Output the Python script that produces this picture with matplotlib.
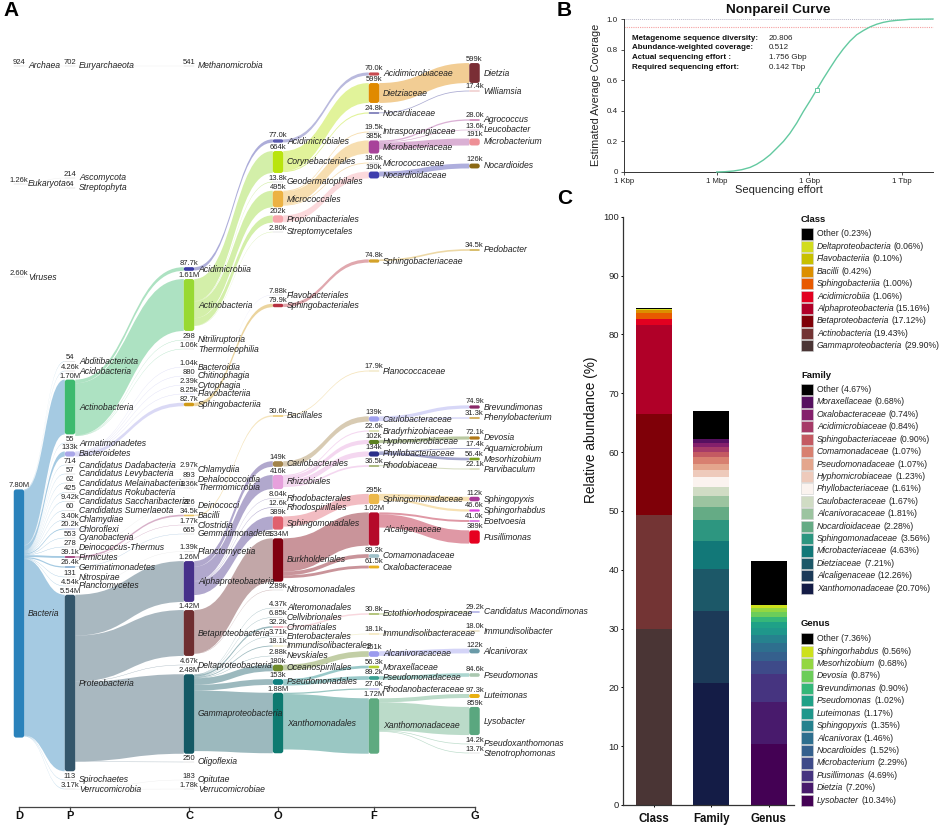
import matplotlib
matplotlib.use('Agg')
import matplotlib.pyplot as plt
from matplotlib.patches import FancyBboxPatch, PathPatch, Rectangle
from matplotlib.path import Path

plt.rcParams['font.family'] = ['Liberation Sans', 'DejaVu Sans']
W, H = 939, 825
TXT = '#222222'

# ---------- Panel A data: taxa, read counts, per rank ----------
RANKS = ['D', 'P', 'C', 'O', 'F', 'G']
TAXA_D = ['Archaea', 'Eukaryota', 'Viruses', 'Bacteria']
COUNT_D = ['924', '1.26k', '2.60k', '7.80M']
TAXA_P = ['Euryarchaeota', 'Ascomycota', 'Streptophyta', 'Abditibacteriota', 'Acidobacteria', 'Actinobacteria',
          'Armatimonadetes', 'Bacteroidetes', 'Candidatus Dadabacteria', 'Candidatus Levybacteria',
          'Candidatus Melainabacteria', 'Candidatus Rokubacteria', 'Candidatus Saccharibacteria',
          'Candidatus Sumerlaeota', 'Chlamydiae', 'Chloroflexi', 'Cyanobacteria', 'Deinococcus-Thermus',
          'Firmicutes', 'Gemmatimonadetes', 'Nitrospirae', 'Planctomycetes', 'Proteobacteria',
          'Spirochaetes', 'Verrucomicrobia']
COUNT_P = ['702', '214', '64', '54', '4.26k', '1.70M', '55', '133k', '714', '57', '62', '425', '9.42k', '60',
           '3.40k', '20.2k', '553', '278', '39.1k', '26.4k', '131', '4.54k', '5.54M', '113', '3.17k']
TAXA_C = ['Methanomicrobia', 'Acidimicrobiia', 'Actinobacteria', 'Nitriliruptoria', 'Thermoleophilia', 'Bacteroidia',
          'Chitinophagia', 'Cytophagia', 'Flavobacteriia', 'Sphingobacteriia', 'Chlamydiia', 'Dehalococcoidia',
          'Thermomicrobia', 'Deinococci', 'Bacilli', 'Clostridia', 'Gemmatimonadetes', 'Planctomycetia',
          'Alphaproteobacteria', 'Betaproteobacteria', 'Deltaproteobacteria', 'Gammaproteobacteria',
          'Oligoflexia', 'Opitutae', 'Verrucomicrobiae']
COUNT_C = ['541', '87.7k', '1.61M', '298', '1.06k', '1.04k', '880', '2.39k', '8.25k', '82.7k', '2.97k', '893',
           '1.36k', '226', '34.5k', '1.77k', '665', '1.39k', '1.26M', '1.42M', '4.67k', '2.48M', '250', '183', '1.78k']
TAXA_O = ['Acidimicrobiales', 'Corynebacteriales', 'Geodermatophilales', 'Micrococcales', 'Propionibacteriales',
          'Streptomycetales', 'Flavobacteriales', 'Sphingobacteriales', 'Bacillales', 'Caulobacterales', 'Rhizobiales',
          'Rhodobacterales', 'Rhodospirillales', 'Sphingomonadales', 'Burkholderiales', 'Nitrosomonadales',
          'Alteromonadales', 'Cellvibrionales', 'Chromatiales', 'Enterobacterales', 'Immundisolibacterales',
          'Nevskiales', 'Oceanospirillales', 'Pseudomonadales', 'Xanthomonadales']
COUNT_O = ['77.0k', '664k', '13.8k', '495k', '202k', '2.80k', '7.88k', '79.9k', '30.6k', '149k', '416k', '8.04k',
           '12.6k', '389k', '1.34M', '2.89k', '4.37k', '6.85k', '32.2k', '3.71k', '18.1k', '2.88k', '180k', '153k', '1.88M']
TAXA_F = ['Acidimicrobiaceae', 'Dietziaceae', 'Nocardiaceae', 'Intrasporangiaceae', 'Microbacteriaceae',
          'Micrococcaceae', 'Nocardioidaceae', 'Sphingobacteriaceae', 'Planococcaceae', 'Caulobacteraceae',
          'Bradyrhizobiaceae', 'Hyphomicrobiaceae', 'Phyllobacteriaceae', 'Rhodobiaceae', 'Sphingomonadaceae',
          'Alcaligenaceae', 'Comamonadaceae', 'Oxalobacteraceae', 'Ectothiorhodospiraceae', 'Immundisolibacteraceae',
          'Alcanivoracaceae', 'Moraxellaceae', 'Pseudomonadaceae', 'Rhodanobacteraceae', 'Xanthomonadaceae']
COUNT_F = ['70.0k', '599k', '24.8k', '19.5k', '385k', '18.6k', '190k', '74.8k', '17.9k', '139k', '22.6k', '102k',
           '134k', '36.5k', '295k', '1.02M', '89.2k', '61.5k', '30.8k', '18.1k', '151k', '56.3k', '89.2k', '27.0k', '1.72M']
TAXA_G = ['Dietzia', 'Williamsia', 'Agrococcus', 'Leucobacter', 'Microbacterium', 'Nocardioides', 'Pedobacter',
          'Brevundimonas', 'Phenylobacterium', 'Devosia', 'Aquamicrobium', 'Mesorhizobium', 'Parvibaculum',
          'Sphingopyxis', 'Sphingorhabdus', 'Eoetvoesia', 'Pusillimonas', 'Candidatus Macondimonas',
          'Immundisolibacter', 'Alcanivorax', 'Pseudomonas', 'Luteimonas', 'Lysobacter', 'Pseudoxanthomonas',
          'Stenotrophomonas']
COUNT_G = ['599k', '17.4k', '28.0k', '13.6k', '191k', '126k', '34.5k', '74.9k', '31.3k', '72.1k', '17.4k', '56.4k',
           '22.1k', '112k', '46.6k', '41.0k', '389k', '29.2k', '18.0k', '122k', '84.6k', '97.3k', '859k', '14.2k', '13.7k']

# parent -> children edges, one table per rank pair
EDGES_DP = {'Archaea': ['Euryarchaeota'], 'Eukaryota': ['Ascomycota', 'Streptophyta'],
            'Bacteria': TAXA_P[3:]}
EDGES_PC = {'Euryarchaeota': ['Methanomicrobia'],
            'Actinobacteria': ['Acidimicrobiia', 'Actinobacteria', 'Nitriliruptoria', 'Thermoleophilia'],
            'Bacteroidetes': ['Bacteroidia', 'Chitinophagia', 'Cytophagia', 'Flavobacteriia', 'Sphingobacteriia'],
            'Chlamydiae': ['Chlamydiia'], 'Chloroflexi': ['Dehalococcoidia', 'Thermomicrobia'],
            'Deinococcus-Thermus': ['Deinococci'], 'Firmicutes': ['Bacilli', 'Clostridia'],
            'Gemmatimonadetes': ['Gemmatimonadetes'], 'Planctomycetes': ['Planctomycetia'],
            'Proteobacteria': ['Alphaproteobacteria', 'Betaproteobacteria', 'Deltaproteobacteria',
                               'Gammaproteobacteria', 'Oligoflexia'],
            'Verrucomicrobia': ['Opitutae', 'Verrucomicrobiae']}
EDGES_CO = {'Acidimicrobiia': ['Acidimicrobiales'],
            'Actinobacteria': ['Corynebacteriales', 'Geodermatophilales', 'Micrococcales', 'Propionibacteriales',
                               'Streptomycetales'],
            'Flavobacteriia': ['Flavobacteriales'], 'Sphingobacteriia': ['Sphingobacteriales'],
            'Bacilli': ['Bacillales'],
            'Alphaproteobacteria': ['Caulobacterales', 'Rhizobiales', 'Rhodobacterales', 'Rhodospirillales',
                                    'Sphingomonadales'],
            'Betaproteobacteria': ['Burkholderiales', 'Nitrosomonadales'],
            'Gammaproteobacteria': ['Alteromonadales', 'Cellvibrionales', 'Chromatiales', 'Enterobacterales',
                                    'Immundisolibacterales', 'Nevskiales', 'Oceanospirillales', 'Pseudomonadales',
                                    'Xanthomonadales']}
EDGES_OF = {'Acidimicrobiales': ['Acidimicrobiaceae'], 'Corynebacteriales': ['Dietziaceae', 'Nocardiaceae'],
            'Micrococcales': ['Intrasporangiaceae', 'Microbacteriaceae', 'Micrococcaceae'],
            'Propionibacteriales': ['Nocardioidaceae'], 'Sphingobacteriales': ['Sphingobacteriaceae'],
            'Bacillales': ['Planococcaceae'], 'Caulobacterales': ['Caulobacteraceae'],
            'Rhizobiales': ['Bradyrhizobiaceae', 'Hyphomicrobiaceae', 'Phyllobacteriaceae', 'Rhodobiaceae'],
            'Sphingomonadales': ['Sphingomonadaceae'],
            'Burkholderiales': ['Alcaligenaceae', 'Comamonadaceae', 'Oxalobacteraceae'],
            'Chromatiales': ['Ectothiorhodospiraceae'], 'Immundisolibacterales': ['Immundisolibacteraceae'],
            'Oceanospirillales': ['Alcanivoracaceae'], 'Pseudomonadales': ['Moraxellaceae', 'Pseudomonadaceae'],
            'Xanthomonadales': ['Rhodanobacteraceae', 'Xanthomonadaceae']}
EDGES_FG = {'Dietziaceae': ['Dietzia'], 'Nocardiaceae': ['Williamsia'],
            'Microbacteriaceae': ['Agrococcus', 'Leucobacter', 'Microbacterium'], 'Nocardioidaceae': ['Nocardioides'],
            'Sphingobacteriaceae': ['Pedobacter'], 'Caulobacteraceae': ['Brevundimonas', 'Phenylobacterium'],
            'Hyphomicrobiaceae': ['Devosia'], 'Phyllobacteriaceae': ['Aquamicrobium', 'Mesorhizobium'],
            'Rhodobiaceae': ['Parvibaculum'], 'Sphingomonadaceae': ['Sphingopyxis', 'Sphingorhabdus'],
            'Alcaligenaceae': ['Eoetvoesia', 'Pusillimonas'], 'Ectothiorhodospiraceae': ['Candidatus Macondimonas'],
            'Immundisolibacteraceae': ['Immundisolibacter'], 'Alcanivoracaceae': ['Alcanivorax'],
            'Pseudomonadaceae': ['Pseudomonas'],
            'Xanthomonadaceae': ['Luteimonas', 'Lysobacter', 'Pseudoxanthomonas', 'Stenotrophomonas']}

# ---------- Panel A layout (pixel rows) and colours ----------
ROW_D = [66, 184, 277, 613.5]
ROW_P = [66, 178, 188, 361.5, 371, 407, 443, 454, 465, 474, 483, 492.5, 501.5, 510.5, 520, 529, 538, 547, 557, 567,
         577, 586, 683, 780, 789]
ROW_C = [66, 269, 305, 340, 349, 367, 376, 385, 394, 404.5, 469, 479, 488, 506, 515.5, 525, 534, 551.5, 581.5, 633,
         665, 714, 762, 780, 789]
ROW_O = [141, 162, 182, 199, 219, 232, 295, 305.5, 416, 464, 482, 498.5, 507.5, 523, 560, 590, 608, 617.5, 627,
         636.5, 646, 656, 668, 682, 723]
ROW_F = [74, 93, 113, 132, 147, 163, 175, 261, 371, 419, 431, 442, 454, 466, 499, 529, 556, 567, 614, 634, 654,
         667, 678, 689, 726]
ROW_G = [73, 91, 120, 130, 142, 166, 250, 407, 418, 438, 448.5, 459, 469, 499, 510.5, 521, 537, 612, 631, 651, 675,
         696, 721, 744, 753]
COL_X = [19, 70, 189, 278, 374, 474.5]
NODE_W = 10.5
PX_PER_M = 31.7

FILL_D = {'Bacteria': '#2a82bb'}
FILL_P = {'Actinobacteria': '#3dba6e', 'Bacteroidetes': '#a9a6e8', 'Proteobacteria': '#34566b', 'Chloroflexi': '#a9b6e0',
          'Firmicutes': '#a0447e', 'Gemmatimonadetes': '#5a8fc0', 'Saccharibacteria': '#cccccc'}
FILL_C = {'Acidimicrobiia': '#3c3ca6', 'Actinobacteria': '#98d932', 'Sphingobacteriia': '#d09a18', 'Bacilli': '#e8c060',
          'Alphaproteobacteria': '#46308a', 'Betaproteobacteria': '#6f2e30', 'Gammaproteobacteria': '#145965',
          'Flavobacteriia': '#c8c8f0'}
FILL_O = {'Acidimicrobiales': '#5a5ab0', 'Corynebacteriales': '#b9e40e', 'Micrococcales': '#ecb243',
          'Propionibacteriales': '#f7a6ac', 'Sphingobacteriales': '#b63040', 'Caulobacterales': '#a2834a',
          'Rhizobiales': '#e6a0dc', 'Sphingomonadales': '#e0606e', 'Burkholderiales': '#800010',
          'Oceanospirillales': '#6e8b2b', 'Pseudomonadales': '#0f7f7f', 'Xanthomonadales': '#0e7a70',
          'Bacillales': '#e8c060', 'Chromatiales': '#f0a0b0', 'Immundisolibacterales': '#e8e0a0'}
FILL_F = {'Acidimicrobiaceae': '#c84a50', 'Dietziaceae': '#e08a00', 'Nocardiaceae': '#3c3c96',
          'Microbacteriaceae': '#a8439a', 'Nocardioidaceae': '#3f3fae', 'Sphingobacteriaceae': '#d4a22a',
          'Caulobacteraceae': '#a0a0ee', 'Hyphomicrobiaceae': '#5b8020', 'Phyllobacteriaceae': '#2a2f8a',
          'Rhodobiaceae': '#a0b070', 'Sphingomonadaceae': '#ecb84a', 'Alcaligenaceae': '#b50a2a',
          'Comamonadaceae': '#9fc0c8', 'Oxalobacteraceae': '#e8b020', 'Alcanivoracaceae': '#9a9aee',
          'Moraxellaceae': '#b5d030', 'Pseudomonadaceae': '#3a9f90', 'Rhodanobacteraceae': '#b5b5ee',
          'Xanthomonadaceae': '#5eaa80', 'Ectothiorhodospiraceae': '#9ab050', 'Immundisolibacteraceae': '#e8d080',
          'Planococcaceae': '#e8d8a0', 'Bradyrhizobiaceae': '#c8d080'}
FILL_G = {'Dietzia': '#7a2e35', 'Microbacterium': '#ee8f96', 'Nocardioides': '#8b6914', 'Brevundimonas': '#8a2a6a',
          'Phenylobacterium': '#c89b3c', 'Devosia': '#b07818', 'Mesorhizobium': '#7aa020', 'Sphingopyxis': '#a83a98',
          'Sphingorhabdus': '#e040e0', 'Eoetvoesia': '#e080e0', 'Pusillimonas': '#e60020', 'Alcanivorax': '#6a9aa8',
          'Pseudomonas': '#aac8b0', 'Luteimonas': '#e8b010', 'Lysobacter': '#5aa77f', 'Candidatus Macondimonas': '#a0a0e0',
          'Pedobacter': '#d0b050', 'Agrococcus': '#c060a0', 'Leucobacter': '#d0a0d0', 'Williamsia': '#e0a0a0',
          'Aquamicrobium': '#9090c0', 'Parvibaculum': '#c0c890', 'Immundisolibacter': '#d8c890'}
FILL_DEFAULT = '#d5d5d5'

# ---------- Panel B data ----------
EFFORT_LOG10 = [6.0, 6.27, 6.54, 6.81, 7.08, 7.29, 7.51, 7.73, 7.94, 8.16, 8.37, 8.59, 8.80, 9.02, 9.235, 9.45,
                9.67, 9.88, 10.1, 10.31, 10.53, 10.75, 10.96, 11.18, 11.39, 11.6, 11.82, 12.26, 13.0]
COVERAGE = [0, 0.002, 0.0065, 0.015, 0.03, 0.05, 0.078, 0.113, 0.155, 0.2, 0.253, 0.32, 0.394, 0.465, 0.537, 0.61,
            0.68, 0.745, 0.805, 0.855, 0.897, 0.925, 0.948, 0.966, 0.978, 0.986, 0.991, 0.998, 1.0]
ACTUAL_EFFORT_LOG10 = 9.2445
ACTUAL_COVERAGE = 0.537
STAT_NAMES = ['Metagenome sequence diversity:', 'Abundance-weighted coverage:', 'Actual sequencing effort :',
              'Required sequencing effort:']
STAT_VALUES = ['20.806', '0.512', '1.756 Gbp', '0.142 Tbp']

# ---------- Panel C data (bottom of stack first) ----------
CLASS_NAMES = ['Gammaproteobacteria', 'Actinobacteria', 'Betaproteobacteria', 'Alphaproteobacteria', 'Acidimicrobiia',
               'Sphingobacteriia', 'Bacilli', 'Flavobacteriia', 'Deltaproteobacteria', 'Other']
CLASS_PCT = [29.90, 19.43, 17.12, 15.16, 1.06, 1.00, 0.42, 0.10, 0.06, 0.23]
CLASS_COL = ['#4a3535', '#733434', '#7f0008', '#b00028', '#e20020', '#e85a00', '#dc8f00', '#c8c000', '#d2dc1e', '#000000']
FAMILY_NAMES = ['Xanthomonadaceae', 'Alcaligenaceae', 'Dietziaceae', 'Microbacteriaceae', 'Sphingomonadaceae',
                'Nocardioidaceae', 'Alcanivoracaceae', 'Caulobacteraceae', 'Phyllobacteriaceae', 'Hyphomicrobiaceae',
                'Pseudomonadaceae', 'Comamonadaceae', 'Sphingobacteriaceae', 'Acidimicrobiaceae', 'Oxalobacteraceae',
                'Moraxellaceae', 'Other']
FAMILY_PCT = [20.70, 12.26, 7.21, 4.63, 3.56, 2.28, 1.81, 1.67, 1.61, 1.23, 1.07, 1.07, 0.90, 0.84, 0.74, 0.68, 4.67]
FAMILY_COL = ['#141c46', '#1c3a58', '#1c5868', '#127878', '#2d9680', '#65ab85', '#9cc4a0', '#d0dcc4', '#fbf3ef',
              '#eecabb', '#e4a68d', '#d88070', '#c45a62', '#a63b68', '#84206c', '#561060', '#000000']
GENUS_NAMES = ['Lysobacter', 'Dietzia', 'Pusillimonas', 'Microbacterium', 'Nocardioides', 'Alcanivorax', 'Sphingopyxis',
               'Luteimonas', 'Pseudomonas', 'Brevundimonas', 'Devosia', 'Mesorhizobium', 'Sphingorhabdus', 'Other']
GENUS_PCT = [10.34, 7.20, 4.69, 2.29, 1.52, 1.46, 1.35, 1.17, 1.02, 0.90, 0.87, 0.68, 0.56, 7.36]
GENUS_COL = ['#440154', '#481a6c', '#463480', '#3e4a89', '#35608d', '#2e6f8e', '#26828e', '#1f978b', '#1fa187',
             '#35b779', '#6ccd5a', '#93d741', '#cde11d', '#000000']
BAR_LABELS = ['Class', 'Family', 'Genus']


def count_value(s):
    if s.endswith('M'):
        return float(s[:-1]) * 1e6
    if s.endswith('k'):
        return float(s[:-1]) * 1e3
    return float(s)


def thickness(s):
    px = count_value(s) / 1e6 * PX_PER_M
    return px + min(0.9, px * 0.5)


fig = plt.figure(figsize=(W / 100, H / 100), dpi=100, facecolor='white')


def px_axes(l, t, r, b):
    a = fig.add_axes([l / W, 1 - b / H, (r - l) / W, (b - t) / H])
    a.patch.set_visible(False)
    return a


canvas = fig.add_axes([0, 0, 1, 1])
canvas.set_xlim(0, W)
canvas.set_ylim(H, 0)
canvas.axis('off')

# ---------- Sankey ----------
LEVELS = [(TAXA_D, COUNT_D, ROW_D, FILL_D), (TAXA_P, COUNT_P, ROW_P, FILL_P), (TAXA_C, COUNT_C, ROW_C, FILL_C),
          (TAXA_O, COUNT_O, ROW_O, FILL_O), (TAXA_F, COUNT_F, ROW_F, FILL_F), (TAXA_G, COUNT_G, ROW_G, FILL_G)]
EDGES = [EDGES_DP, EDGES_PC, EDGES_CO, EDGES_OF, EDGES_FG]

nodes = {}
for li, (names, counts, rows, fills) in enumerate(LEVELS):
    for n, c, r in zip(names, counts, rows):
        h = thickness(c)
        nodes[(li, n)] = dict(x=COL_X[li], y=r, h=h, color=fills.get(n, FILL_DEFAULT), cursor=r - max(h, 0.4) / 2)

for li, table in enumerate(EDGES):
    for parent, children in table.items():
        src = nodes[(li, parent)]
        for child in children:
            dst = nodes[(li + 1, child)]
            t = max(dst['h'], 0.4)
            x0 = src['x'] + NODE_W / 2
            x1 = dst['x'] - NODE_W / 2
            xm = (x0 + x1) / 2
            y0 = src['cursor']
            src['cursor'] += t
            y1 = dst['y'] - t / 2
            verts = [(x0, y0), (xm, y0), (xm, y1), (x1, y1), (x1, y1 + t), (xm, y1 + t), (xm, y0 + t), (x0, y0 + t),
                     (x0, y0)]
            codes = [Path.MOVETO, Path.CURVE4, Path.CURVE4, Path.CURVE4, Path.LINETO, Path.CURVE4, Path.CURVE4,
                     Path.CURVE4, Path.CLOSEPOLY]
            canvas.add_patch(PathPatch(Path(verts, codes), fc=src['color'], ec='none', alpha=0.42, zorder=1))

for li, (names, counts, rows, fills) in enumerate(LEVELS):
    for n, c in zip(names, counts):
        nd = nodes[(li, n)]
        h = max(nd['h'], 0.6)
        top = nd['y'] - h / 2
        rr = min(2.5, h / 2)
        canvas.add_patch(FancyBboxPatch((nd['x'] - NODE_W / 2, top), NODE_W, h,
                                        boxstyle=f'round,pad=0,rounding_size={rr}', fc=nd['color'], ec='none', zorder=2))
        canvas.text(nd['x'], top - 3.6, c, ha='center', va='center', fontsize=5.5, color=TXT, zorder=3)
        canvas.text(nd['x'] + 9, nd['y'], n, ha='left', va='center', fontsize=6.2, style='italic', color=TXT, zorder=3)

# rank axis
canvas.plot([COL_X[0], COL_X[-1]], [806.5, 806.5], color='#444444', lw=0.9, zorder=1)
for x, r in zip(COL_X, RANKS):
    canvas.plot([x, x], [806.5, 810], color='#444444', lw=0.9)
    canvas.text(x, 816, r, ha='center', va='center', fontsize=8, fontweight='bold', color='#111111')

# panel letters
for s, x, y in [('A', 3, 10), ('B', 557, 11), ('C', 557, 199)]:
    canvas.text(x, y, s, ha='left', va='center', fontsize=15, fontweight='bold', color='black')

# ---------- Panel B ----------
axb = px_axes(624, 19, 933, 172)
axb.set_xscale('log')
axb.plot([10 ** v for v in EFFORT_LOG10], COVERAGE, color='#63c9a0', lw=1.0, clip_on=False, zorder=3)
axb.plot([10 ** ACTUAL_EFFORT_LOG10], [ACTUAL_COVERAGE], 's', ms=2.8, mfc='white', mec='#63c9a0', mew=0.7, zorder=4)
axb.axhline(1.0, color='#b8b8c8', lw=0.7, ls=(0, (1, 1)), clip_on=False)
axb.axhline(0.95, color='#f4a0a0', lw=0.8, ls=(0, (1, 1)), clip_on=False)
axb.set_xlim(1e3, 1e13)
axb.set_ylim(0, 1)
axb.set_xticks([1e3, 1e6, 1e9, 1e12])
axb.set_xticklabels(['1 Kbp', '1 Mbp', '1 Gbp', '1 Tbp'], fontsize=5.6, color=TXT)
axb.minorticks_off()
axb.set_yticks([0, 0.2, 0.4, 0.6, 0.8, 1.0])
axb.set_yticklabels(['0', '0.2', '0.4', '0.6', '0.8', '1.0'], fontsize=5.8, color=TXT)
axb.tick_params(length=2.5, width=0.6, pad=2, color='#333333')
for s in ('top', 'right'):
    axb.spines[s].set_visible(False)
for s in ('left', 'bottom'):
    axb.spines[s].set_linewidth(0.7)
    axb.spines[s].set_color('#333333')
axb.set_title('Nonpareil Curve', fontsize=9.7, fontweight='bold', pad=4.5, color='#111111')
canvas.text(779, 190, 'Sequencing effort', ha='center', va='center', fontsize=8, color=TXT)
canvas.text(596, 95, 'Estimated Average Coverage', ha='center', va='center', rotation=90, fontsize=7.8, color=TXT)
for i, (a, b) in enumerate(zip(STAT_NAMES, STAT_VALUES)):
    canvas.text(632, 38 + i * 9.7, a, ha='left', va='center', fontsize=5.8, fontweight='bold', color='#111111', zorder=5)
    canvas.text(769, 38 + i * 9.7, b, ha='left', va='center', fontsize=5.8, color=TXT, zorder=5)

# ---------- Panel C ----------
axc = px_axes(623, 216.7, 794, 805)
for pos, (vals, cols) in enumerate([(CLASS_PCT, CLASS_COL), (FAMILY_PCT, FAMILY_COL), (GENUS_PCT, GENUS_COL)]):
    base = 0
    for v, c in zip(vals, cols):
        axc.bar(pos, v, bottom=base, width=0.628, color=c, linewidth=0)
        base += v
axc.set_xlim(-0.54, 2.44)
axc.set_ylim(0, 100)
axc.set_xticks([0, 1, 2])
axc.set_xticklabels(BAR_LABELS, fontsize=8.3, fontweight='bold', color='#111111')
axc.set_yticks(range(0, 101, 10))
axc.tick_params(axis='y', labelsize=6.8, labelcolor=TXT, length=1.5, width=0.7, pad=1.5)
axc.tick_params(axis='x', length=1.5, width=0.7, pad=4)
for s in ('top', 'right'):
    axc.spines[s].set_visible(False)
for s in ('left', 'bottom'):
    axc.spines[s].set_linewidth(0.9)
    axc.spines[s].set_color('#333333')
canvas.text(591, 430, 'Relative abundance (%)', ha='center', va='center', rotation=90, fontsize=9.8, color='#111111')

renderer = fig.canvas.get_renderer()
inv = canvas.transData.inverted()


def legend_block(title, names, pcts, cols, y_title, y_first):
    canvas.text(801, y_title, title, ha='left', va='center', fontsize=6.8, fontweight='bold', color='#111111')
    rev = list(zip(names, pcts, cols))[::-1]
    for i, (n, p, c) in enumerate(rev):
        y = y_first + i * 12.42
        canvas.add_patch(Rectangle((801, y - 5.6), 12, 11.2, fc=c, ec='#cfcfcf', lw=0.4))
        suffix = f'({p:.2f}%)'
        if n == 'Other':
            canvas.text(817, y, f'Other {suffix}', ha='left', va='center', fontsize=6.2, color=TXT)
        else:
            t = canvas.text(817, y, n, ha='left', va='center', fontsize=6.2, style='italic', color=TXT)
            xe = inv.transform((t.get_window_extent(renderer).x1, 0))[0]
            canvas.text(xe + 2.2, y, suffix, ha='left', va='center', fontsize=6.2, color=TXT)


legend_block('Class', CLASS_NAMES, CLASS_PCT, CLASS_COL, 219, 234)
legend_block('Family', FAMILY_NAMES, FAMILY_PCT, FAMILY_COL, 375, 389.5)
legend_block('Genus', GENUS_NAMES, GENUS_PCT, GENUS_COL, 624, 638.7)

fig.savefig('out.png', dpi=100, facecolor='white')
